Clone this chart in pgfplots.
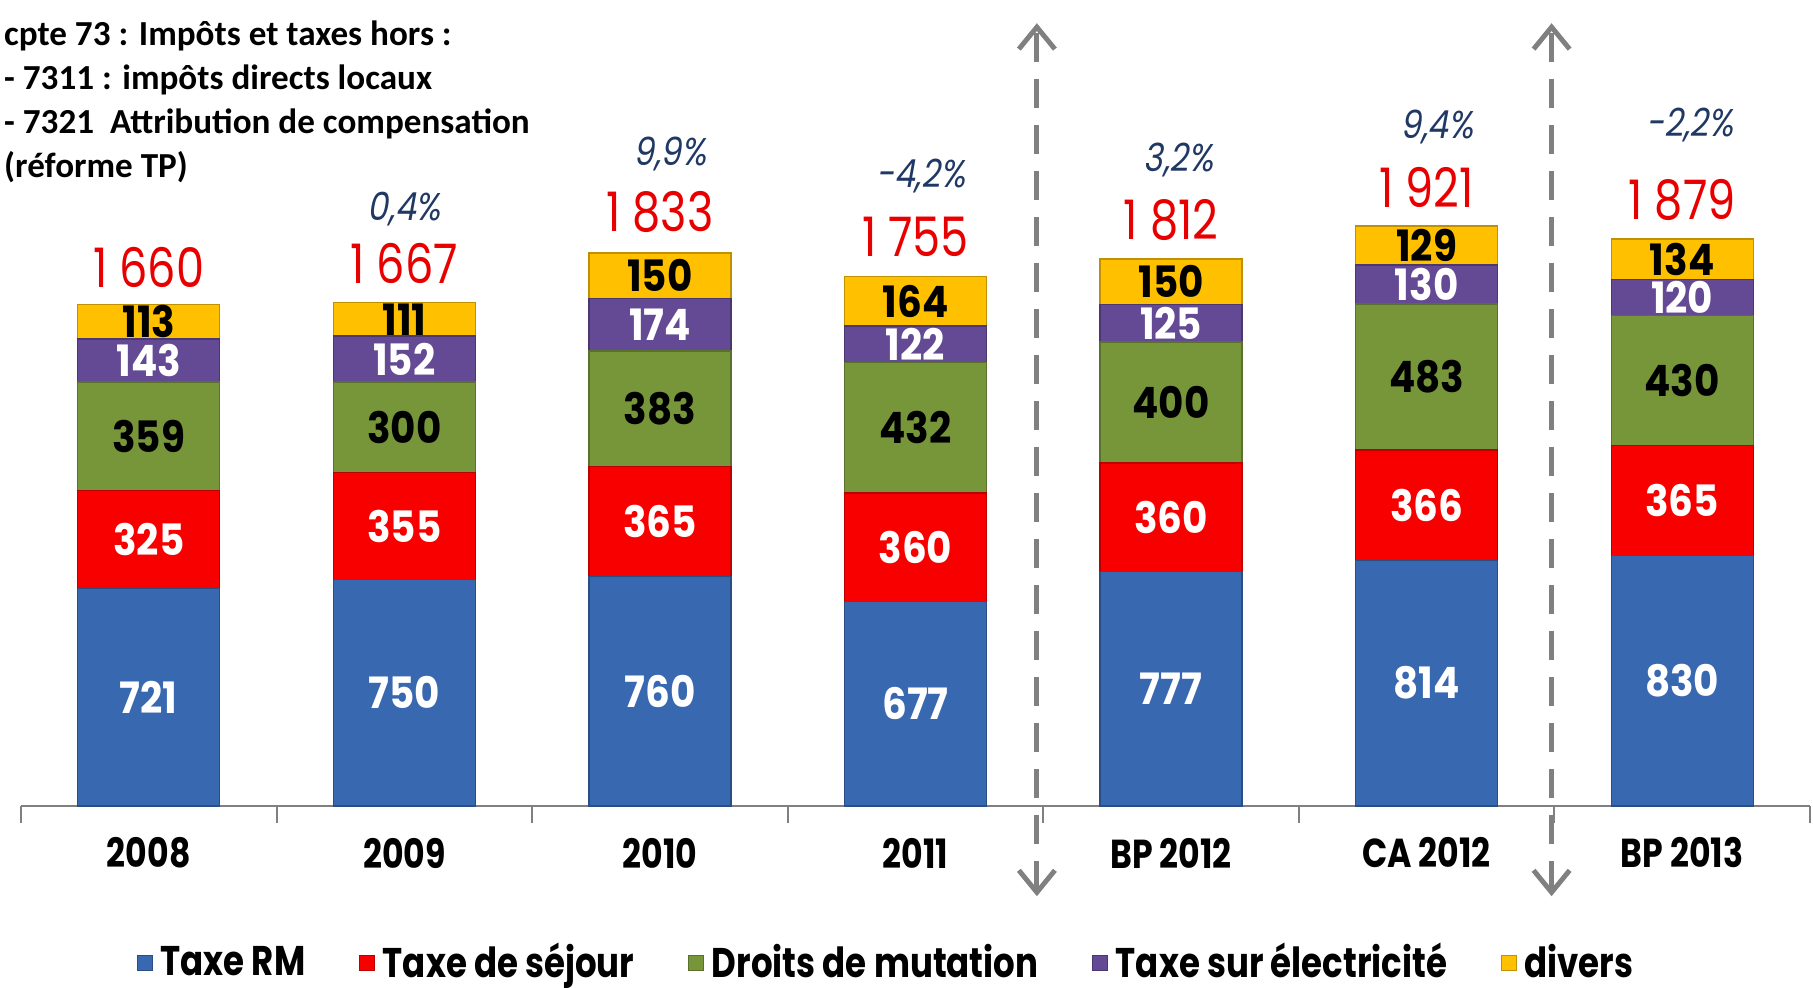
\documentclass[border=0pt]{standalone}
\usepackage{pgfplots}
\pgfplotsset{compat=1.18}
\usepackage{pgfplotstable}
\usepackage{fontspec}
\setmainfont{Carlito}
\newfontfamily\gothic[FakeStretch=0.82]{Poppins}
\newfontfamily\gothicseg[FakeStretch=0.9]{Poppins}
\newfontfamily\gothicit[FakeStretch=0.85,FakeSlant=0.18]{Poppins}
\usetikzlibrary{arrows.meta}
\definecolor{cblue}{RGB}{56,104,176}
\definecolor{cred}{RGB}{248,0,0}
\definecolor{cgreen}{RGB}{119,150,58}
\definecolor{cpurple}{RGB}{100,74,148}
\definecolor{cyellow}{RGB}{255,192,0}
\definecolor{navyc}{RGB}{31,56,100}
\definecolor{tred}{RGB}{232,0,0}
\definecolor{agrey}{RGB}{128,128,128}

\pgfplotstableread{
pos rm sejour mutation elec divers
0 721 325 359 143 113
1 750 355 300 152 111
2 760 365 383 174 150
3 677 360 432 122 164
4 777 360 400 125 150
5 814 366 483 130 129
6 830 365 430 120 134
}\bardata

\tikzset{
  segw/.style={text=white, font=\gothicseg\bfseries\fontsize{12.3}{14}\selectfont, anchor=center},
  segb/.style={text=black, font=\gothicseg\bfseries\fontsize{12.3}{14}\selectfont, anchor=center},
  tot/.style={text=tred, font=\gothic\fontsize{15.5}{16}\selectfont, anchor=center},
  pct/.style={text=navyc, font=\gothicit\fontsize{11}{12}\selectfont, anchor=center},
  ttl/.style={anchor=base west, inner sep=0pt, font=\bfseries\fontsize{10}{12}\selectfont},
  sep/.style={agrey, line width=1.4pt, dash pattern=on 2.9mm off 1.7mm, {Straight Barb[length=2.2mm,width=3.6mm]}-{Straight Barb[length=2.2mm,width=3.6mm]}},
}

\pgfplotsset{
  annot/.style={after end axis/.code={%
% segment labels
\node[segw] at (axis cs:0,360.5) {721};   \node[segw] at (axis cs:0,883.5) {325};   \node[segw] at (axis cs:0,1476.5) {143};
\node[segw] at (axis cs:1,375) {750};     \node[segw] at (axis cs:1,927.5) {355};   \node[segw] at (axis cs:1,1481) {152};
\node[segw] at (axis cs:2,380) {760};     \node[segw] at (axis cs:2,942.5) {365};   \node[segw] at (axis cs:2,1595) {174};
\node[segw] at (axis cs:3,338.5) {677};   \node[segw] at (axis cs:3,857) {360};     \node[segw] at (axis cs:3,1530) {122};
\node[segw] at (axis cs:4,388.5) {777};   \node[segw] at (axis cs:4,957) {360};     \node[segw] at (axis cs:4,1599.5) {125};
\node[segw] at (axis cs:5,407) {814};     \node[segw] at (axis cs:5,997) {366};     \node[segw] at (axis cs:5,1728) {130};
\node[segw] at (axis cs:6,415) {830};     \node[segw] at (axis cs:6,1012.5) {365};  \node[segw] at (axis cs:6,1685) {120};
\node[segb] at (axis cs:0,1225.5) {359};  \node[segb] at (axis cs:0,1604.5) {113};
\node[segb] at (axis cs:1,1255) {300};    \node[segb] at (axis cs:1,1612.5) {111};
\node[segb] at (axis cs:2,1316.5) {383};  \node[segb] at (axis cs:2,1757) {150};
\node[segb] at (axis cs:3,1253) {432};    \node[segb] at (axis cs:3,1673) {164};
\node[segb] at (axis cs:4,1337) {400};    \node[segb] at (axis cs:4,1737) {150};
\node[segb] at (axis cs:5,1421.5) {483};  \node[segb] at (axis cs:5,1857.5) {129};
\node[segb] at (axis cs:6,1410) {430};    \node[segb] at (axis cs:6,1812) {134};
% totals
\node[tot] at (axis cs:0,1785) {1 660};
\node[tot] at (axis cs:1,1797) {1 667};
\node[tot] at (axis cs:2,1969) {1 833};
\node[tot] at (axis cs:3,1885) {1 755};
\node[tot] at (axis cs:4,1943) {1 812};
\node[tot] at (axis cs:5,2050) {1 921};
\node[tot] at (axis cs:6,2008) {1 879};
% percentages
\node[pct] at (axis cs:1.0,1977) {0,4\%};
\node[pct] at (axis cs:2.04,2161) {9,9\%};
\node[pct] at (axis cs:3.02,2088) {-4,2\%};
\node[pct] at (axis cs:4.03,2142) {3,2\%};
\node[pct] at (axis cs:5.04,2249) {9,4\%};
\node[pct] at (axis cs:6.03,2257) {-2,2\%};
% separators
\draw[sep] (axis cs:3.475,-299) -- (axis cs:3.475,2594);
\draw[sep] (axis cs:5.489,-299) -- (axis cs:5.489,2594);
% title
\node[ttl] at ([xshift=-1.75mm,yshift=-4.6mm]rel axis cs:0,1) {cpte 73 : Impôts et taxes hors :};
\node[ttl] at ([xshift=-1.75mm,yshift=-9.0mm]rel axis cs:0,1) {- 7311 : impôts directs locaux};
\node[ttl] at ([xshift=-1.75mm,yshift=-13.4mm]rel axis cs:0,1) {- 7321\ \ Attribution de compensation};
\node[ttl] at ([xshift=-1.75mm,yshift=-17.8mm]rel axis cs:0,1) {(réforme TP)};
  }},
}

\begin{document}
\begin{tikzpicture}
\useasboundingbox (-2.1mm,-18.2mm) rectangle (179.2mm,80.6mm);
\begin{axis}[
  at={(0,0)}, anchor=south west,
  scale only axis, width=178.9mm, height=80.6mm,
  xmin=-0.5, xmax=6.5, ymin=0, ymax=2671,
  clip=false,
  ybar stacked, bar width=14.2mm,
  axis x line*=bottom, axis y line=none,
  x axis line style={agrey, line width=0.8pt},
  xtick={0,...,6},
  xticklabels={2008,2009,2010,2011,BP 2012,CA 2012,BP 2013},
  major tick length=0pt,
  minor xtick={-0.5,0.5,...,6.5},
  minor tick length=1.7mm, tick align=outside,
  minor tick style={agrey, line width=0.6pt},
  xticklabel style={font=\gothic\bfseries\fontsize{11.5}{13}\selectfont, anchor=center, yshift=-4.7mm},
  legend columns=5,
  legend cell align=left,
  legend style={at={(0.484,-0.195)}, anchor=center, draw=none, fill=none, inner sep=0pt,
    font=\gothic\bfseries\fontsize{11.8}{13}\selectfont,
    nodes={inner sep=1pt},
    /tikz/every odd column/.append style={column sep=0.4mm},
    /tikz/every even column/.append style={column sep=5mm}},
  legend image code/.code={\fill[#1] (0mm,-0.75mm) rectangle (1.5mm,0.75mm);},
  annot,
]
\addplot[fill=cblue, draw=cblue!75!black, line width=0.4pt] table[x=pos,y=rm]{\bardata};
\addplot[fill=cred, draw=cred!75!black, line width=0.4pt] table[x=pos,y=sejour]{\bardata};
\addplot[fill=cgreen, draw=cgreen!75!black, line width=0.4pt] table[x=pos,y=mutation]{\bardata};
\addplot[fill=cpurple, draw=cpurple!75!black, line width=0.4pt] table[x=pos,y=elec]{\bardata};
\addplot[fill=cyellow, draw=cyellow!75!black, line width=0.4pt] table[x=pos,y=divers]{\bardata};
\legend{Taxe RM,Taxe de séjour,Droits de mutation,Taxe sur électricité,divers}
\end{axis}
\end{tikzpicture}
\end{document}
